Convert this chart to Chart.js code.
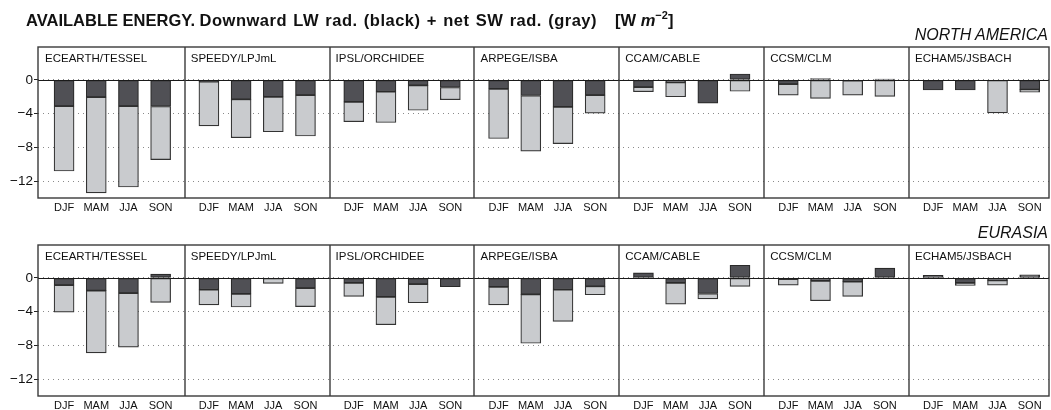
<!DOCTYPE html>
<html><head><meta charset="utf-8">
<script src="https://cdn.jsdelivr.net/npm/chart.js@4.4.1/dist/chart.umd.min.js"></script>
<style>
html,body{margin:0;padding:0;background:#fff;width:1051px;height:410px;overflow:hidden;font-family:"Liberation Sans",Arial,sans-serif;color:#111;}
#title{position:absolute;left:26px;top:12px;font-weight:bold;font-size:16.5px;line-height:16px;white-space:nowrap;}
#title .rest{word-spacing:1.2px;letter-spacing:0.5px;}
#title .unit{margin-left:18px;}
#title sup{font-size:11px;line-height:0;vertical-align:7px;}
.region{position:absolute;right:3px;font-style:italic;font-size:16px;line-height:16px;white-space:nowrap;}
canvas{position:absolute;left:0;}
#c1{top:0;}
#c2{top:198px;}
</style></head><body>
<canvas id="c1" width="1051" height="214"></canvas>
<canvas id="c2" width="1051" height="214"></canvas>
<div id="title">AVAILABLE ENERGY. <span class="rest">Downward LW rad. (black) + net SW rad. (gray)</span><span class="unit">[W <i>m</i><sup>−2</sup>]</span></div>
<div class="region" id="r1" style="top:27px">NORTH AMERICA</div>
<div class="region" id="r2" style="top:225px">EURASIA</div>
<script>
const seasons = ['DJF','MAM','JJA','SON'];
const models = ['ECEARTH/TESSEL','SPEEDY/LPJmL','IPSL/ORCHIDEE','ARPEGE/ISBA','CCAM/CABLE','CCSM/CLM','ECHAM5/JSBACH'];
const yTicks = [-12,-8,-4,0];

// North America: downward LW (black) and net SW (gray), 4 seasons per model
const naLW = [-3.1,-2.05,-3.1,-3.15,  -0.2,-2.3,-2.0,-1.8,  -2.6,-1.4,-0.65,-0.9,  -1.05,-1.85,-3.2,-1.8,
              -0.85,-0.3,-2.75,0.7,  -0.5,0.15,-0.1,0.1,  -1.2,-1.2,0,-1.15];
const naSW = [-7.7,-11.35,-9.6,-6.3,  -5.25,-4.55,-4.15,-4.85,  -2.35,-3.65,-2.95,-1.45,  -5.9,-6.6,-4.35,-2.15,
              -0.55,-1.7,0,-1.35,  -1.3,-2.2,-1.7,-1.95,  0,0,-3.9,-0.3];
// Eurasia
const euLW = [-0.85,-1.5,-1.8,0.45,  -1.4,-1.9,0,-1.2,  -0.6,-2.25,-0.75,-1.05,  -1.05,-1.95,-1.4,-1.0,
              0.6,-0.6,-1.85,1.5,  -0.15,-0.35,-0.45,1.15,  0.3,-0.6,-0.3,0.35];
const euSW = [-3.2,-7.4,-6.4,-2.9,  -1.8,-1.55,-0.65,-2.2,  -1.6,-3.3,-2.2,0,  -2.15,-5.8,-3.75,-1.0,
              0,-2.5,-0.65,-1.0,  -0.7,-2.35,-1.75,0,  0,-0.3,-0.55,0];

const PANEL = 4.5;      // panel span in category units
const GAP = 0.75;       // half-gap between last bar of one panel and first of next
const FONT = '"Liberation Sans", Arial, sans-serif';
const positions = [];
models.forEach((m, mi) => seasons.forEach((s, si) => positions.push(mi * PANEL + si)));

const framePlugin = {
  id: 'frame',
  afterDatasetsDraw(chart) {
    const {ctx, chartArea: a, scales: {x, y}} = chart;
    ctx.save();
    const y0 = Math.round(y.getPixelForValue(0)) + 0.5;
    ctx.strokeStyle = '#1a1a1a'; ctx.lineWidth = 1;
    ctx.beginPath(); ctx.moveTo(a.left, y0); ctx.lineTo(a.right, y0); ctx.stroke();
    ctx.strokeStyle = '#3a3a3a'; ctx.lineWidth = 1.4;
    for (let m = 1; m < models.length; m++) {
      const px = Math.round(x.getPixelForValue(m * PANEL - GAP));
      ctx.beginPath(); ctx.moveTo(px, a.top); ctx.lineTo(px, a.bottom); ctx.stroke();
    }
    ctx.strokeRect(a.left, a.top, a.right - a.left, a.bottom - a.top);
    ctx.fillStyle = '#111';
    ctx.font = '11.5px ' + FONT;
    ctx.textBaseline = 'alphabetic';
    models.forEach((m, mi) => {
      const left = mi === 0 ? a.left + 1 : x.getPixelForValue(mi * PANEL - GAP);
      ctx.fillText(m, left + 6, a.top + 15);
    });
    ctx.restore();
  }
};

function makeChart(id, lw, sw) {
  return new Chart(document.getElementById(id), {
    type: 'bar',
    data: {
      datasets: [
        { label: 'LW', data: lw.map((v, i) => ({x: positions[i], y: v})),
          backgroundColor: '#505055', borderColor: '#2a2a2a', borderWidth: 1.2,
          borderSkipped: false, barThickness: 20 },
        { label: 'SW', data: sw.map((v, i) => ({x: positions[i], y: v})),
          backgroundColor: '#c9cbce', borderColor: '#333333', borderWidth: 1.2,
          borderSkipped: false, barThickness: 20 }
      ]
    },
    options: {
      animation: false, responsive: false, maintainAspectRatio: false,
      layout: {padding: {top: 47, right: 2, left: 0, bottom: 0}},
      plugins: {legend: {display: false}, tooltip: {enabled: false}},
      scales: {
        x: {
          type: 'linear', stacked: true, offset: false, min: -0.81, max: 30.6,
          grid: {display: false, drawTicks: false, offset: false}, border: {display: false},
          afterBuildTicks: s => { s.ticks = positions.map(v => ({value: v})); },
          afterFit: s => { s.height = 16; },
          ticks: {autoSkip: false, maxRotation: 0, minRotation: 0, padding: 3, color: '#111',
                  font: {size: 11, family: FONT},
                  callback: (v, i) => seasons[i % seasons.length]}
        },
        y: {
          stacked: true, min: -14, max: 3.9,
          afterBuildTicks: s => { s.ticks = yTicks.map(v => ({value: v})); },
          afterFit: s => { s.width = 38; },
          grid: {color: '#8a8a8a', lineWidth: 1, tickColor: '#222', tickLength: 4},
          border: {display: false, dash: [1, 4]},
          ticks: {padding: 1, color: '#111', font: {size: 13.5, family: FONT},
                  callback: v => v === 0 ? '0' : '\u2212' + Math.abs(v)}
        }
      }
    },
    plugins: [framePlugin]
  });
}
makeChart('c1', naLW, naSW);
makeChart('c2', euLW, euSW);
</script>
</body></html>
